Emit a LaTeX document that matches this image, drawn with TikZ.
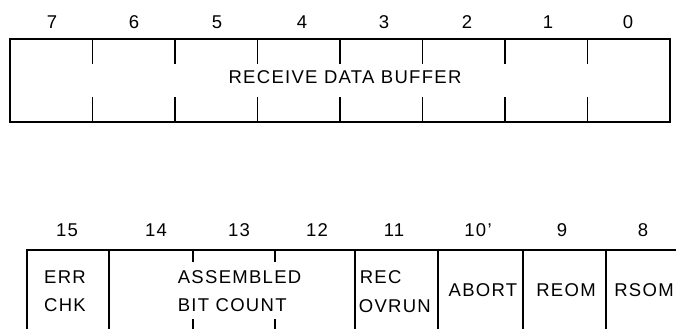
\documentclass[tikz,border=0pt]{standalone}
\usepackage{fontspec}
\setmainfont{Liberation Sans}[LetterSpace=7]
\begin{document}
\begin{tikzpicture}[x=1pt,y=-1pt,line width=1.7pt,
  lbl/.style={inner sep=0pt,font=\fontsize{18.5}{22}\selectfont},
  lft/.style={lbl,anchor=west}]
\useasboundingbox (0,0) rectangle (676,329);
% ---- upper register ----
\draw (10,39) rectangle (670,122);
\foreach \x in {92.5,175,257.5,340,422.5,505,587.5} {
  \draw (\x,39) -- (\x,64);
  \draw (\x,97) -- (\x,122);
}
\foreach \n/\x in {7/52,6/134,5/217,4/302,3/384,2/467,1/548,0/628}
  \node[lbl] (t\n) at (\x,22) {\n};
\node[lbl] (rdb) at (345,77) {RECEIVE DATA BUFFER};
% ---- lower register ----
\draw (27,329) -- (27,250) -- (676,250);
\foreach \x in {109,355,438,523,606} \draw (\x,250) -- (\x,329);
\foreach \x in {193,275} {
  \draw (\x,250) -- (\x,262);
  \draw (\x,319) -- (\x,329);
}
\foreach \n/\x in {15/67,14/156,13/239,12/317,11/394,9/562,8/643}
  \node[lbl] (b\n) at (\x,230) {\n};
\node[lbl] (b10) at (478,230) {10'};
\node[lbl] (err) at (65,277) {ERR};
\node[lbl] (chk) at (65,305) {CHK};
\node[lft] (asm) at (177,277) {ASSEMBLED};
\node[lft] (bitc) at (177,305) {BIT COUNT};
\node[lft] (rec) at (359,277) {REC};
\node[lft] (ovr) at (358,306) {OVRUN};
\node[lbl] (abort) at (483,290) {ABORT};
\node[lbl] (reom) at (566,290) {REOM};
\node[lbl] (rsom) at (644,290) {RSOM};
\end{tikzpicture}
\end{document}
